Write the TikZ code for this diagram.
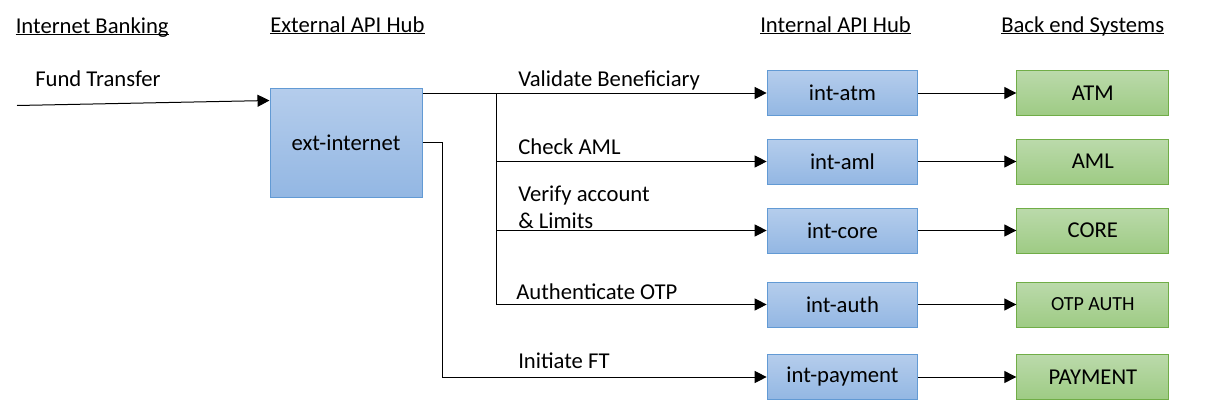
\documentclass[tikz,border=0pt]{standalone}
\usepackage{fontspec}
\setmainfont{Carlito}
\usetikzlibrary{positioning,arrows.meta}
\definecolor{azultop}{RGB}{181,205,236}
\definecolor{azulbot}{RGB}{147,183,227}
\definecolor{azulborde}{RGB}{98,154,212}
\definecolor{verdetop}{RGB}{187,218,171}
\definecolor{verdebot}{RGB}{158,203,132}
\definecolor{verdeborde}{RGB}{112,173,71}
\tikzset{linea/.style={line width=0.75pt}}
\tikzset{flecha/.style={line width=0.75pt, -{Triangle[length=9pt,width=9pt]}}}
\tikzset{bloqueazul/.style={draw=azulborde, line width=0.75pt, top color=azultop, bottom color=azulbot,
    minimum width=113pt, minimum height=33.75pt, inner sep=0pt}}
\tikzset{bloqueverde/.style={draw=verdeborde, line width=0.75pt, top color=verdetop, bottom color=verdebot,
    minimum width=114pt, minimum height=33.75pt, inner sep=0pt}}
\tikzset{texto/.style={anchor=base west, inner sep=0pt}}

\begin{document}
\begin{tikzpicture}[x=0.75pt, y=-0.75pt, every node/.style={font=\fontsize{17}{20.25}\selectfont}]
            \useasboundingbox (0,0) rectangle (1218,400);

            % titulos
            \node[texto] (h1) at (15.5,33) {Internet Banking};
            \node[texto] (h2) at (270,32) {External API Hub};
            \node[texto] (h3) at (760,32) {Internal API Hub};
            \node[texto] (h4) at (1001,32) {Back end Systems};
            \foreach \h in {h1,h2,h3,h4}
                \draw[line width=0.7pt] ([yshift=-1.3pt]\h.base west) -- ([yshift=-1.3pt]\h.base east);

            % bloques
            \node[bloqueazul, minimum width=114pt, minimum height=81.75pt] (ext) at (346,142.5) {ext-internet};
            \node[bloqueazul] (atm)  at (842.5,93)    {int-atm};
            \node[bloqueazul] (aml)  at (842.5,161.5) {int-aml};
            \node[bloqueazul] (core) at (842.5,230.5) {int-core};
            \node[bloqueazul] (auth) at (842.5,304.5) {int-auth};
            \node[bloqueazul] (pay)  at (842.5,377)   {int-payment};
            \node[bloqueverde, right= 73.5pt of atm]  (batm)  {ATM};
            \node[bloqueverde, right= 73.5pt of aml]  (baml)  {AML};
            \node[bloqueverde, right= 73.5pt of core] (bcore) {CORE};
            \node[bloqueverde, right= 73.5pt of auth, font=\fontsize{15}{18}\selectfont] (bauth) {OTP AUTH};
            \node[bloqueverde, right= 73.5pt of pay]  (bpay)  {PAYMENT};

            % etiquetas
            \node[texto] (ft) at (35,86) {Fund Transfer};
            \node[texto] (l1) at (518,86) {Validate Beneficiary};
            \node[texto] (l2) at (518,154) {Check AML};
            \node[texto, align=left] (l3) at (518,228) {Verify account\\\& Limits};
            \node[texto] (l4) at (516,299) {Authenticate OTP};
            \node[texto] (l5) at (518,368) {Initiate FT};

            % conexiones
            \coordinate (entrada) at (17,105.5);
            \coordinate (rama) at (496,93);
            \draw[flecha] (entrada) -- ([yshift=-9.75pt]ext.north west);
            \draw[flecha] (ext.east |- atm) -- (atm);
            \draw[flecha] (rama) |- (aml);
            \draw[flecha] (rama) |- (core);
            \draw[flecha] (rama) |- (auth);
            \draw[flecha] (ext.east) -- ++(20,0) |- (pay);
            \foreach \a/\b in {atm/batm, aml/baml, core/bcore, auth/bauth, pay/bpay}
                \draw[flecha] (\a) -- (\b);
        \end{tikzpicture}
\end{document}
